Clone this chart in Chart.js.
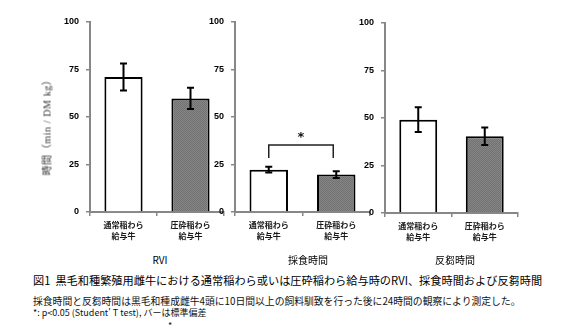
<!DOCTYPE html>
<html lang="ja">
<head>
<meta charset="utf-8">
<script src="https://cdn.jsdelivr.net/npm/chart.js@4/dist/chart.umd.min.js"></script>
<style>
  html, body { margin: 0; padding: 0; background: #fff; }
  #figure {
    position: relative;
    width: 563px;
    height: 328px;
    overflow: hidden;
    background: #fff;
    font-family: "Noto Sans CJK JP", "Noto Sans", sans-serif;
    color: #111;
  }
  #figure canvas { position: absolute; top: 0; }
  .txt { position: absolute; white-space: nowrap; }
  .panel-title { font-size: 10px; line-height: 12px; transform: translateX(-50%); top: 254px; color: #000; }
  .y-title {
    left: 47px; top: 125px;
    font-family: "Liberation Serif", "Noto Sans CJK JP", serif;
    font-size: 10px; line-height: 11px; color: #333;
    letter-spacing: 0.6px;
    transform: translate(-50%, -50%) rotate(-90deg);
  }
  .caption { left: 33px; top: 273px; font-size: 11.2px; line-height: 14px; color: #000; }
  .note { left: 33px; font-size: 9.8px; line-height: 12px; color: #111; }
</style>
</head>
<body>
<div id="figure">
  <canvas id="rvi-chart" width="230" height="250" style="left:0px"></canvas>
  <canvas id="feed-chart" width="190" height="250" style="left:190px"></canvas>
  <canvas id="rumi-chart" width="190" height="250" style="left:340px;top:1px"></canvas>

  <div class="txt y-title">時間（min / DM kg）</div>
  <div class="txt panel-title" style="left:160px">RVI</div>
  <div class="txt panel-title" style="left:308px">採食時間</div>
  <div class="txt panel-title" style="left:455px">反芻時間</div>

  <div class="txt caption">図1&nbsp;&nbsp;黒毛和種繁殖用雌牛における通常稲わら或いは圧砕稲わら給与時のRVI、採食時間および反芻時間</div>
  <div class="txt note" style="top:295px">採食時間と反芻時間は黒毛和種成雌牛4頭に10日間以上の飼料馴致を行った後に24時間の観察により測定した。</div>
  <div class="txt note" style="top:307px;font-size:9px">*: p&lt;0.05 (Student' T test), バーは標準偏差</div>
  <div class="txt note" style="top:320px;left:168px;font-size:9px">*</div>
</div>

<script>
// categories shared by every panel
const categories = [['通常稲わら', '給与牛'], ['圧砕稲わら', '給与牛']];
const yTicks = [0, 25, 50, 75, 100];

// means and standard deviations (min / DM kg)
const rviMeans = [71.1, 59.8];
const rviSd = [7.1, 5.6];
const feedMeans = [22.3, 19.7];
const feedSd = [1.5, 1.8];
const rumiMeans = [49.1, 40.4];
const rumiSd = [6.5, 4.6];

// significance bracket on the feeding-time panel
const sigPair = [0, 1];
const sigBracketTop = 35.3;
const sigBracketLeg = 28.4;
const sigLabelAt = 39.4;
const sigLabel = '*';

const axisGray = '#878787';

function grayTexture() {
  const c = document.createElement('canvas');
  c.width = 2;
  c.height = 2;
  const g = c.getContext('2d');
  g.fillStyle = '#858585';
  g.fillRect(0, 0, 2, 2);
  g.fillStyle = '#727272';
  g.fillRect(0, 0, 1, 1);
  g.fillRect(1, 1, 1, 1);
  return g.createPattern(c, 'repeat');
}

const errorBars = {
  id: 'errorBars',
  afterDatasetsDraw(chart, args, opts) {
    const { ctx, scales: { x, y } } = chart;
    const means = chart.data.datasets[0].data;
    const sd = opts.sd || [];
    ctx.save();
    ctx.strokeStyle = '#000';
    ctx.lineWidth = 2;
    means.forEach((m, i) => {
      const px = x.getPixelForValue(i);
      const hi = y.getPixelForValue(m + sd[i]);
      const lo = y.getPixelForValue(m - sd[i]);
      ctx.beginPath();
      ctx.moveTo(px, hi);
      ctx.lineTo(px, lo);
      ctx.moveTo(px - 3.5, hi);
      ctx.lineTo(px + 3.5, hi);
      ctx.moveTo(px - 3.5, lo);
      ctx.lineTo(px + 3.5, lo);
      ctx.stroke();
    });
    ctx.restore();
  }
};

const sigBracket = {
  id: 'sigBracket',
  afterDatasetsDraw(chart, args, opts) {
    if (!opts.show) return;
    const { ctx, scales: { x, y } } = chart;
    const x0 = x.getPixelForValue(sigPair[0]);
    const x1 = x.getPixelForValue(sigPair[1]) - 3;
    const top = y.getPixelForValue(sigBracketTop);
    const leg = y.getPixelForValue(sigBracketLeg);
    ctx.save();
    ctx.strokeStyle = '#222';
    ctx.lineWidth = 1.5;
    ctx.beginPath();
    ctx.moveTo(x0, leg);
    ctx.lineTo(x0, top);
    ctx.lineTo(x1, top);
    ctx.lineTo(x1, leg);
    ctx.stroke();
    ctx.fillStyle = '#111';
    ctx.font = 'bold 13px "DejaVu Sans", sans-serif';
    ctx.textAlign = 'center';
    ctx.textBaseline = 'middle';
    ctx.fillText(sigLabel, (x0 + x1) / 2, y.getPixelForValue(sigLabelAt));
    ctx.restore();
  }
};

function buildPanel(canvasId, means, sd, yAxisWidth, rightPad, showBracket) {
  const ctx = document.getElementById(canvasId);
  return new Chart(ctx, {
    type: 'bar',
    data: {
      labels: categories,
      datasets: [{
        data: means,
        backgroundColor: ['#ffffff', grayTexture()],
        borderColor: '#000',
        borderWidth: 2,
        borderSkipped: 'bottom',
        categoryPercentage: 1,
        barPercentage: 0.57
      }]
    },
    options: {
      responsive: false,
      animation: false,
      layout: { padding: { top: 22, right: rightPad, left: 0, bottom: 0 } },
      plugins: {
        legend: { display: false },
        tooltip: { enabled: false },
        errorBars: { sd: sd },
        sigBracket: { show: showBracket }
      },
      scales: {
        x: {
          grid: { drawOnChartArea: false, tickLength: 4, color: axisGray, lineWidth: 1.5 },
          border: { color: axisGray, width: 2 },
          ticks: {
            color: '#1a1a1a',
            padding: 4,
            maxRotation: 0,
            autoSkip: false,
            font: { family: '"Noto Sans CJK JP", sans-serif', size: 8, weight: 'bold', lineHeight: 1.35 }
          },
          afterFit: (s) => { s.height = 38; }
        },
        y: {
          min: 0,
          max: 100,
          afterBuildTicks: (s) => { s.ticks = yTicks.map((v) => ({ value: v })); },
          grid: { drawOnChartArea: false, tickLength: 4, color: axisGray, lineWidth: 1.5 },
          border: { color: axisGray, width: 2 },
          ticks: {
            color: '#000',
            padding: 7,
            font: { family: '"Liberation Sans", sans-serif', size: 9, weight: 'bold' }
          },
          afterFit: (s) => { s.width = yAxisWidth; }
        }
      }
    },
    plugins: [errorBars, sigBracket]
  });
}

buildPanel('rvi-chart', rviMeans, rviSd, 90, 6, false);
buildPanel('feed-chart', feedMeans, feedSd, 45, 10, true);
buildPanel('rumi-chart', rumiMeans, rumiSd, 45, 12, false);
</script>
</body>
</html>
